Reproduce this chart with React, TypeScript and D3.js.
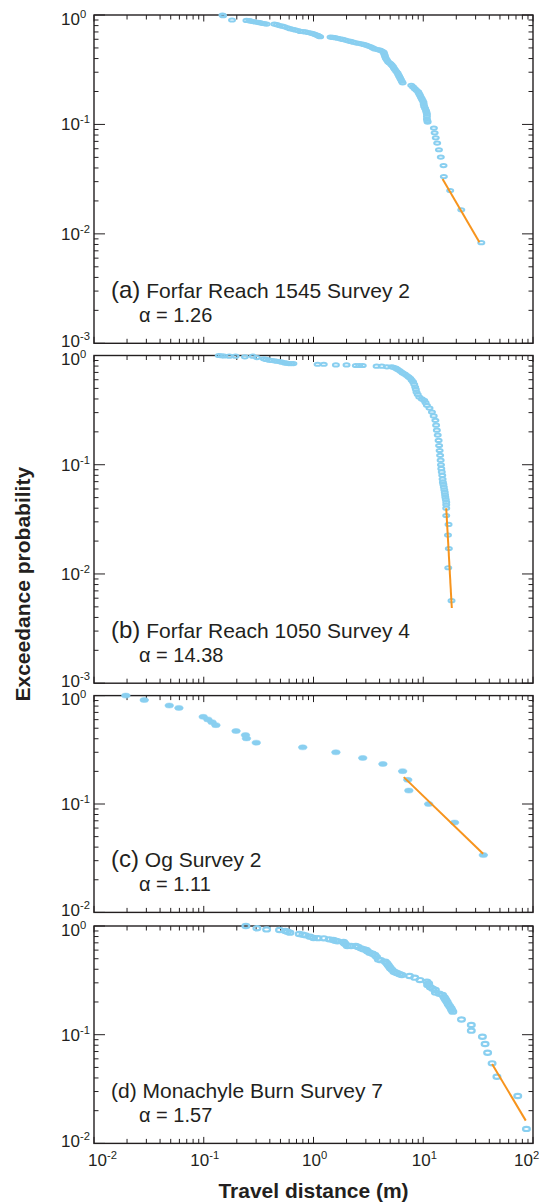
import React from "react";
import * as d3 from "d3";

// ---------- data ----------
const aDist = [0.148,0.150,0.181,0.245,0.268,0.294,0.324,0.374,0.44,0.49,0.547,0.61,0.68,0.759,0.846,0.944,1.015,1.09,1.15,1.43,1.57,1.75,1.95,2.18,2.43,2.71,3.02,3.32,3.62,4.04,4.35,4.45,4.57,4.78,5.02,5.29,5.52,5.82,6.03,6.26,6.49,7.78,8.37,9.0,9.33,9.68,10.04,10.2,10.6,10.8,10.8,10.96,12.5,12.7,13.0,13.4,13.9,14.45,15.3,15.4,17.6,22.2,33.8,
  0.26,0.28,0.31,0.34,0.355,0.465,0.52,0.58,0.645,0.72,0.80,0.895,0.98,1.05,1.12,
  1.5,1.66,1.85,2.06,2.3,2.57,2.86,3.17,3.47,3.83,4.2,4.4,4.5,4.67,4.9,5.15,5.4,5.67,5.92,6.15,6.38,
  8.07,8.68,9.16,9.5,9.86,10.1,10.4,10.7,10.8,10.9];
const aProb = [1.0,0.985,0.90,0.893,0.881,0.863,0.85,0.827,0.827,0.80,0.78,0.75,0.73,0.708,0.70,0.684,0.67,0.65,0.633,0.628,0.62,0.606,0.59,0.573,0.557,0.546,0.53,0.512,0.49,0.477,0.458,0.43,0.40,0.373,0.36,0.34,0.317,0.296,0.276,0.257,0.24,0.228,0.212,0.198,0.185,0.172,0.16,0.146,0.134,0.124,0.112,0.105,0.0927,0.0838,0.0754,0.0675,0.0587,0.0503,0.0421,0.0334,0.0249,0.0166,0.0083,
  0.887,0.872,0.857,0.84,0.835,0.815,0.79,0.765,0.74,0.72,0.705,0.692,0.677,0.66,0.64,
  0.624,0.613,0.598,0.581,0.565,0.552,0.538,0.52,0.5,0.483,0.468,0.445,0.415,0.387,0.366,0.35,0.328,0.306,0.286,0.266,0.248,
  0.22,0.205,0.191,0.178,0.166,0.153,0.14,0.129,0.118,0.108];

const bDist = [0.137,0.145,0.153,0.171,0.195,0.237,0.28,0.305,0.353,0.394,0.44,0.49,0.547,0.597,0.656,1.09,1.24,1.60,2.0,2.43,2.61,2.81,3.76,4.19,4.67,5.14,5.61,6.03,6.49,7.08,7.62,8.08,8.44,8.68,9.2,10.2,10.8,12.0,12.9,13.3,13.8,14.1,14.4,14.6,14.9,15.1,15.4,15.7,15.9,16.2,16.2,16.2,17.0,16.8,17.1,16.9,18.1,
  0.37,0.415,0.465,0.515,0.57,0.625,
  5.35,5.8,6.25,6.8,7.35,7.85,8.27,8.56,8.9,9.7,
  10.5,11.4,12.45,13.1,13.55,13.95,14.25,14.5,14.75,15.0,15.25,15.55,15.8,16.05,16.2];
const bProb = [1.0,0.995,0.99,0.986,0.986,0.972,0.986,0.958,0.932,0.906,0.893,0.88,0.856,0.844,0.844,0.832,0.832,0.82,0.82,0.81,0.81,0.81,0.798,0.798,0.787,0.787,0.765,0.733,0.693,0.655,0.618,0.573,0.515,0.463,0.416,0.388,0.35,0.304,0.255,0.207,0.167,0.135,0.11,0.092,0.08,0.0693,0.0624,0.0561,0.0505,0.0454,0.040,0.0343,0.0284,0.0227,0.0171,0.0114,0.0057,
  0.92,0.9,0.886,0.868,0.85,0.844,
  0.78,0.75,0.713,0.674,0.636,0.595,0.545,0.49,0.44,0.40,
  0.37,0.33,0.28,0.23,0.187,0.15,0.122,0.1,0.086,0.074,0.066,0.059,0.053,0.048,0.043];

const cDist = [0.0195,0.0287,0.0485,0.0594,0.0989,0.109,0.119,0.129,0.197,0.24,0.245,0.301,0.798,1.6,2.81,4.29,6.49,7.23,7.39,11.2,19.3,35.3];
const cProb = [1.0,0.91,0.81,0.77,0.637,0.603,0.569,0.534,0.471,0.432,0.403,0.368,0.333,0.3,0.266,0.234,0.201,0.167,0.133,0.1,0.0674,0.0338];

const dDist = [0.242,0.305,0.374,0.49,0.554,0.61,0.741,0.846,0.929,1.0,1.24,1.39,1.51,1.65,1.88,1.95,2.03,2.43,2.71,3.02,3.25,3.62,3.9,4.51,4.78,5.02,5.4,5.82,6.39,7.5,8.37,9.33,10.8,10.96,11.6,12.9,12.9,15.0,15.5,16.1,16.9,17.9,18.6,22.3,27.4,27.4,34.6,36.6,38.6,42.4,46.9,72.6,87.1,
  0.58,0.8,1.1,1.58,1.9,2.2,2.55,2.85,3.1,3.45,3.75,4.1,4.65,4.9,5.2,5.6,6.1,11.2,12.2,14.0,15.8,16.5,17.4,18.2];
const dProb = [1.0,0.952,0.931,0.918,0.9,0.869,0.844,0.82,0.798,0.776,0.77,0.754,0.743,0.723,0.713,0.683,0.655,0.655,0.623,0.601,0.568,0.541,0.493,0.47,0.438,0.408,0.38,0.367,0.354,0.347,0.335,0.318,0.307,0.286,0.273,0.258,0.244,0.232,0.221,0.208,0.191,0.175,0.163,0.138,0.123,0.109,0.0959,0.082,0.0683,0.0545,0.041,0.0273,0.0136,
  0.885,0.83,0.773,0.733,0.698,0.655,0.64,0.612,0.585,0.555,0.52,0.485,0.455,0.423,0.395,0.373,0.36,0.296,0.265,0.238,0.214,0.2,0.183,0.169];

const aFitDist = [15.0, 32.5];
const aFitProb = [0.0318, 0.0084];
const bFitDist = [16.2, 18.2];
const bFitProb = [0.040, 0.00488];
const cFitDist = [6.64, 35.1];
const cFitProb = [0.177, 0.0348];
const dFitDist = [42.4, 85.9];
const dFitProb = [0.0537, 0.0162];

const panelLetters = ["(a)", "(b)", "(c)", "(d)"];
const panelNames = ["Forfar Reach 1545 Survey 2", "Forfar Reach 1050 Survey 4", "Og Survey 2", "Monachyle Burn Survey 7"];
const panelAlphas = ["1.26", "14.38", "1.11", "1.57"];
const panelYMin = [1e-3, 1e-3, 1e-2, 1e-2];

const xTickValues = [0.01, 0.1, 1, 10, 100];
const xTickExps = ["-2", "-1", "0", "1", "2"];

const xTitle = "Travel distance (m)";
const yTitle = "Exceedance probability";

// ---------- style ----------
const W = 544;
const H = 1203;
const FONT = "'Liberation Sans', Arial, Helvetica, sans-serif";
const INK = "#231f20";
const BLUE = "#89cff0";
const ORANGE = "#f7941d";
const LEFT = 94;
const RIGHT = 533;
const panelBoxes = [
  [15, 343.3],
  [355.5, 683.2],
  [695.6, 912.4],
  [926, 1143.4],
];

const x = d3.scaleLog().domain([0.01, 100]).range([LEFT, RIGHT]);

function minorValues(lo: number, hi: number) {
  const out: { v: number; major: boolean }[] = [];
  const e0 = Math.round(Math.log10(lo));
  const e1 = Math.round(Math.log10(hi));
  for (let e = e0; e <= e1; e++) {
    for (let m = 1; m <= 9; m++) {
      const v = m * Math.pow(10, e);
      if (v < lo * 0.999 || v > hi * 1.001) continue;
      out.push({ v, major: m === 1 });
    }
  }
  return out;
}

function Pow10({ px, py, exp, size }: any) {
  return (
    <text x={px} y={py} fontFamily={FONT} fontSize={size} fill={INK}>
      10
      <tspan fontSize={size * 0.66} dy={-7}>{exp}</tspan>
    </text>
  );
}

function Panel({ idx, dist, prob, fitDist, fitProb, hollow, rx, ry, sw }: any) {
  const [top, bottom] = panelBoxes[idx];
  const yMin = panelYMin[idx];
  const y = d3.scaleLog().domain([yMin, 1]).range([bottom, top]);
  const yt = minorValues(yMin, 1);
  const xt = minorValues(0.01, 100);
  const line = d3
    .line<number>()
    .x((d, i) => x(fitDist[i]))
    .y((d, i) => y(fitProb[i]));
  const labels = yt.filter((t) => t.major);
  return (
    <g>
      {yt.map((t, i) => {
        const L = t.major ? 11 : 4.5;
        const yy = y(t.v);
        return (
          <g key={"y" + i}>
            <line x1={LEFT} x2={LEFT + L} y1={yy} y2={yy} stroke={INK} strokeWidth={1} />
            <line x1={RIGHT} x2={RIGHT - L} y1={yy} y2={yy} stroke={INK} strokeWidth={1} />
          </g>
        );
      })}
      {xt.map((t, i) => {
        const L = t.major ? 6.5 : 4.5;
        const xx = x(t.v);
        return (
          <g key={"x" + i}>
            <line x1={xx} x2={xx} y1={top} y2={top + L} stroke={INK} strokeWidth={1} />
            <line x1={xx} x2={xx} y1={bottom} y2={bottom - L} stroke={INK} strokeWidth={1} />
          </g>
        );
      })}
      <rect x={LEFT} y={top} width={RIGHT - LEFT} height={bottom - top} fill="none" stroke={INK} strokeWidth={1.4} />
      {labels.map((t, i) => {
        const e = Math.round(Math.log10(t.v));
        const shift = t.v === 1 ? 3.5 : t.v === yMin ? -2.5 : 0;
        const yy = y(t.v) + 6 + shift;
        return <Pow10 key={"l" + i} px={61} py={yy} exp={String(e)} size={17} />;
      })}
      {dist.map((d: number, i: number) => (
        <ellipse
          key={"p" + i}
          cx={x(d)}
          cy={y(prob[i])}
          rx={rx}
          ry={ry}
          fill={hollow ? "none" : BLUE}
          stroke={BLUE}
          strokeWidth={sw}
        />
      ))}
      <path d={line(fitDist) || ""} fill="none" stroke={ORANGE} strokeWidth={2} />
      <text x={111} y={bottom - 45} fontFamily={FONT} fill={INK} fontSize={21}>
        <tspan fontSize={idx === 3 ? 21 : 24}>{panelLetters[idx]}</tspan>
        <tspan>{" " + panelNames[idx]}</tspan>
      </text>
      <text x={139} y={bottom - 21.5} fontFamily={FONT} fill={INK} fontSize={20}>
        {"\u03b1 = " + panelAlphas[idx]}
      </text>
    </g>
  );
}

export default function App() {
  const bottom = panelBoxes[3][1];
  return (
    <svg width={W} height={H} style={{ position: "absolute", left: 0, top: 0, background: "#fff" }}>
      <rect x={0} y={0} width={W} height={H} fill="#fff" />
      <Panel idx={0} dist={aDist} prob={aProb} fitDist={aFitDist} fitProb={aFitProb} hollow rx={3.0} ry={1.6} sw={2} />
      <Panel idx={1} dist={bDist} prob={bProb} fitDist={bFitDist} fitProb={bFitProb} hollow rx={3.0} ry={1.6} sw={2} />
      <Panel idx={2} dist={cDist} prob={cProb} fitDist={cFitDist} fitProb={cFitProb} hollow={false} rx={4.3} ry={2.5} sw={0.5} />
      <Panel idx={3} dist={dDist} prob={dProb} fitDist={dFitDist} fitProb={dFitProb} hollow rx={3.4} ry={2.1} sw={2.2} />
      {xTickValues.map((v, i) => {
        const w = xTickExps[i].length > 1 ? 31 : 27;
        let sx = x(v) - w / 2 + 2;
        sx = Math.max(88, Math.min(541 - w, sx));
        return <Pow10 key={"xt" + i} px={sx} py={bottom + 23} exp={xTickExps[i]} size={17} />;
      })}
      <text x={(LEFT + RIGHT) / 2} y={1198} textAnchor="middle" fontFamily={FONT} fontWeight="bold" fontSize={21} fill={INK}>
        {xTitle}
      </text>
      <text
        transform={`translate(30, ${(panelBoxes[0][0] + bottom) / 2 + 5}) rotate(-90)`}
        textAnchor="middle"
        fontFamily={FONT}
        fontWeight="bold"
        fontSize={21}
        fill={INK}
      >
        {yTitle}
      </text>
    </svg>
  );
}
